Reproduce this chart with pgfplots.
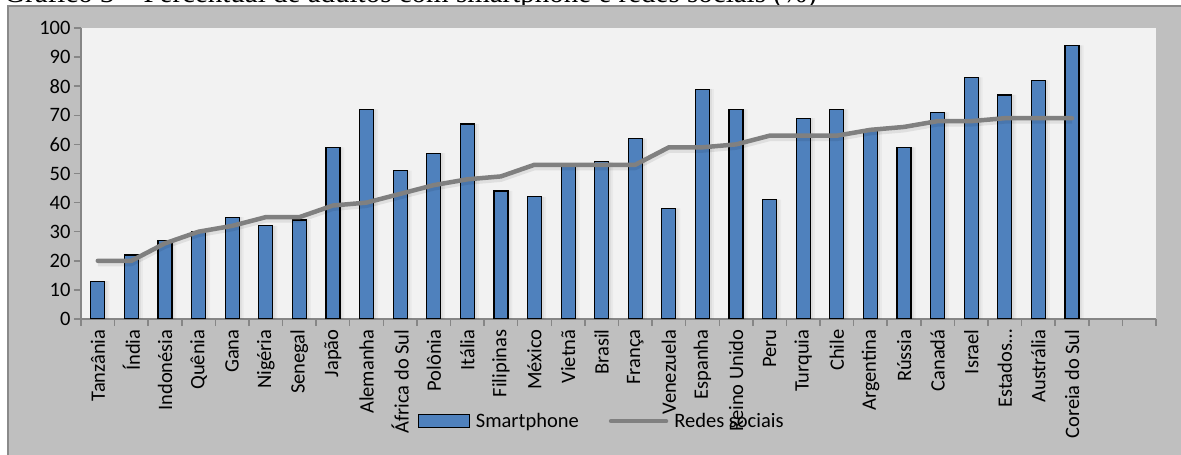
\documentclass[border=0pt]{standalone}
\usepackage{pgfplots}
\pgfplotsset{compat=1.18}
\usepackage{pgfplotstable}
\usepackage{fontspec}
\setmainfont{Carlito}
\newfontfamily\titlefont{Liberation Serif}

\definecolor{barblue}{HTML}{4F81BD}
\definecolor{linegray}{HTML}{808080}
\definecolor{chartbg}{HTML}{BFBFBF}
\definecolor{plotbg}{HTML}{F2F2F2}
\definecolor{axisgray}{HTML}{868686}
\definecolor{framegray}{HTML}{8A8A8A}

\newcommand\labfont{\fontsize{20.5bp}{24bp}\selectfont}

% smartphone ownership and social network use, adults (%)
\pgfplotstableread{
x smart redes
0 13 20
1 22 20
2 27 26
3 30 30
4 35 32
5 32 35
6 34 35
7 59 39
8 72 40
9 51 43
10 57 46
11 67 48
12 44 49
13 42 53
14 53 53
15 54 53
16 62 53
17 38 59
18 79 59
19 72 60
20 41 63
21 69 63
22 72 63
23 65 65
24 59 66
25 71 68
26 83 68
27 77 69
28 82 69
29 94 69
}\datatable

\begin{document}
\begin{tikzpicture}
\fill[white] (0,0) rectangle (1181bp,455bp);
% title (its upper part lies above the page)
\begin{scope}
\clip (0,0) rectangle (1181bp,455bp);
\node[anchor=base west, inner sep=0pt, font={\titlefont\fontsize{29bp}{32bp}\selectfont}]
  at (4bp,452.3bp) {Gráfico 3 – Percentual de adultos com smartphone e redes sociais (\%)};
\end{scope}
% chart area
\fill[chartbg] (8bp,-1bp) rectangle (1182bp,449bp);
\draw[framegray, line width=1.5bp] (8bp,-1bp) -- (8bp,449bp) -- (1182bp,449bp);

\begin{axis}[
  at={(81bp,136bp)}, anchor=south west,
  scale only axis, width=1075bp, height=291bp,
  xmin=-0.5, xmax=31.5, ymin=0, ymax=100,
  axis lines*=left,
  axis line style={draw=axisgray, line width=1.5bp},
  axis background/.style={fill=plotbg},
  tick align=outside,
  major tick length=7bp,
  minor tick length=7bp,
  tick style={draw=axisgray, line width=1.5bp},
  major x tick style={draw=none},
  ytick={0,10,...,100},
  xtick={0,...,29},
  minor xtick={-0.5,0.5,...,31.5},
  xticklabels={Tanzânia,Índia,Indonésia,Quênia,Gana,Nigéria,Senegal,Japão,Alemanha,África do Sul,Polônia,Itália,Filipinas,México,Vietnã,Brasil,França,Venezuela,Espanha,Reino Unido,Peru,Turquia,Chile,Argentina,Rússia,Canadá,Israel,Estados…,Austrália,Coreia do Sul},
  /pgf/number format/assume math mode=true,
  tick label style={font=\labfont, text=black},
  x tick label style={rotate=90, anchor=east},
  legend style={at={(0.313,-0.351)}, anchor=west, draw=none, fill=none,
    font=\labfont, inner sep=0pt,
    nodes={inner xsep=6bp},
    /tikz/every even column/.append style={column sep=24bp}},
  legend columns=2,
]
% soft shadows behind the bars
\addplot[ybar, bar width=14bp, bar shift=4.5bp, fill=black, fill opacity=0.035, draw=none, forget plot]
  table[x=x, y=smart] {\datatable};
\addplot[ybar, bar width=14bp, bar shift=2.5bp, fill=black, fill opacity=0.05, draw=none, forget plot]
  table[x=x, y=smart] {\datatable};
% smartphone bars
\addplot[ybar, bar width=14bp, fill=barblue, draw=black, line width=1.2bp,
  legend image code/.code={\draw[fill=barblue, draw=black, line width=1.2bp] (0bp,-6.5bp) rectangle (51bp,6.5bp);}]
  table[x=x, y=smart] {\datatable};
\addlegendentry{Smartphone}
% shadow of the social network line
\addplot[sharp plot, black, opacity=0.08, line width=5bp, line join=round, yshift=-3bp, forget plot]
  table[x=x, y=redes] {\datatable};
% social networks line
\addplot[sharp plot, linegray, line width=4.5bp, line join=round, line cap=round,
  legend image code/.code={\draw[linegray, line width=4.5bp, line cap=round] (0bp,0bp) -- (55bp,0bp);}]
  table[x=x, y=redes] {\datatable};
\addlegendentry{Redes sociais}
\end{axis}
% the page is exactly the chart box
\pgfresetboundingbox
\useasboundingbox (0,0) rectangle (1181bp,455bp);
\end{tikzpicture}
\end{document}
